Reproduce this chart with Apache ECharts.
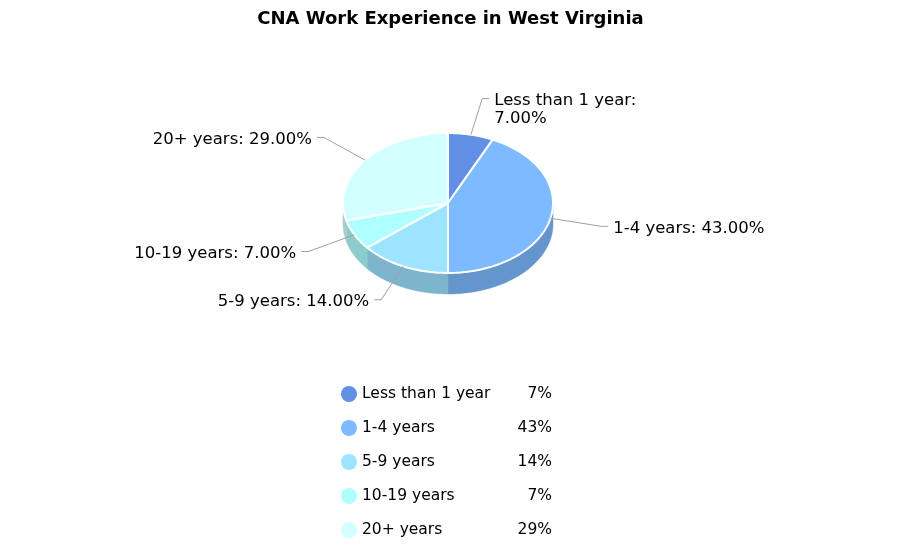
<!DOCTYPE html>
<html>
<head>
<meta charset="utf-8">
<script src="https://cdn.jsdelivr.net/npm/echarts@6/dist/echarts.min.js"></script>
<style>html,body{margin:0;padding:0;background:#fff;}#c{width:901px;height:558px;}</style>
</head>
<body>
<div id="c"></div>
<script>
var titleText = 'CNA Work Experience in West Virginia';
var categories = ['Less than 1 year', '1-4 years', '5-9 years', '10-19 years', '20+ years'];
var values = [7, 43, 14, 7, 29];
var topColors = ['#6290E6', '#7DBAFF', '#9CE4FF', '#B0FFFF', '#D2FFFF'];
var sideColors = ['#4E73B8', '#6495CC', '#7DB6CC', '#8DCCCC', '#A8CCCC'];

var FONT = '"DejaVu Sans", Verdana, sans-serif';
var CX = 448, CY = 203, RX = 105, RY = 70, DEPTH = 21;
var LRX = 157, LRY = 107;

var total = values.reduce(function (a, b) { return a + b; }, 0);
function sliceAngles(i) {
  var before = 0;
  for (var k = 0; k < i; k++) before += values[k];
  var a0 = -Math.PI / 2 + before / total * Math.PI * 2;
  var a1 = a0 + values[i] / total * Math.PI * 2;
  return [a0, a1];
}
function arcPts(a0, a1, dy) {
  var pts = [];
  var n = Math.max(2, Math.ceil((a1 - a0) / 0.02));
  for (var j = 0; j <= n; j++) {
    var a = a0 + (a1 - a0) * j / n;
    pts.push([CX + RX * Math.cos(a), CY + RY * Math.sin(a) + dy]);
  }
  return pts;
}

function makeRender(i) {
  return function (params, api) {
    var ang = sliceAngles(i);
    var a0 = ang[0], a1 = ang[1];
    var children = [];
    var ranges = [[0, Math.PI], [2 * Math.PI, 3 * Math.PI]];
    ranges.forEach(function (r) {
      var s0 = Math.max(a0, r[0]), s1 = Math.min(a1, r[1]);
      if (s1 > s0) {
        var topArc = arcPts(s0, s1, 0);
        var botArc = arcPts(s0, s1, DEPTH).reverse();
        children.push({
          type: 'polygon', z2: 1,
          shape: { points: topArc.concat(botArc) },
          style: { fill: sideColors[i], stroke: sideColors[i], lineWidth: 0.5 }
        });
      }
    });
    var pts = [[CX, CY]].concat(arcPts(a0, a1, 0));
    children.push({
      type: 'polygon', z2: 2,
      shape: { points: pts },
      style: { fill: topColors[i], stroke: '#ffffff', lineWidth: 2, lineJoin: 'round' }
    });
    var m = (a0 + a1) / 2;
    var ex = CX + RX * Math.cos(m), ey = CY + RY * Math.sin(m);
    var ax = CX + LRX * Math.cos(m), ay = CY + LRY * Math.sin(m);
    var right = Math.cos(m) >= 0;
    var hx = ax + (right ? 7 : -7);
    children.push({
      type: 'polyline', z2: 3,
      shape: { points: [[ex, ey], [ax, ay], [hx, ay]] },
      style: { stroke: '#a0a0a0', lineWidth: 1, fill: null }
    });
    children.push({
      type: 'text', z2: 4,
      x: hx + (right ? 5 : -5), y: ay - 7,
      style: {
        text: categories[i] + ': ' + api.value(0).toFixed(2) + '%',
        fill: '#000000', font: '16.5px ' + FONT,
        align: right ? 'left' : 'right', verticalAlign: 'top',
        lineHeight: 18, width: 178, overflow: 'break'
      }
    });
    return { type: 'group', children: children };
  };
}

var series = categories.map(function (name, i) {
  return {
    type: 'custom', name: name, coordinateSystem: 'none',
    silent: true, animation: false,
    data: [[values[i]]],
    renderItem: makeRender(i)
  };
});

var chart = echarts.init(document.getElementById('c'));
chart.setOption({
  animation: false,
  color: topColors,
  title: {
    text: titleText, left: 'center', top: 5,
    textStyle: { fontFamily: FONT, fontSize: 18, fontWeight: 'bold', color: '#000' }
  },
  legend: {
    data: categories, orient: 'vertical', left: 341, top: 386, padding: 0,
    icon: 'circle', itemWidth: 16, itemHeight: 16, itemGap: 18, itemTextGap: 6,
    selectedMode: false,
    formatter: function (name) {
      var i = categories.indexOf(name);
      return '{n|' + name + '}{v|' + values[i] + '%}';
    },
    textStyle: {
      fontFamily: FONT, fontSize: 15.5, color: '#000',
      rich: {
        n: { width: 150, fontFamily: FONT, fontSize: 15.5, color: '#000' },
        v: { width: 40, align: 'right', fontFamily: FONT, fontSize: 15.5, color: '#000' }
      }
    }
  },
  series: series
});
</script>
</body>
</html>
